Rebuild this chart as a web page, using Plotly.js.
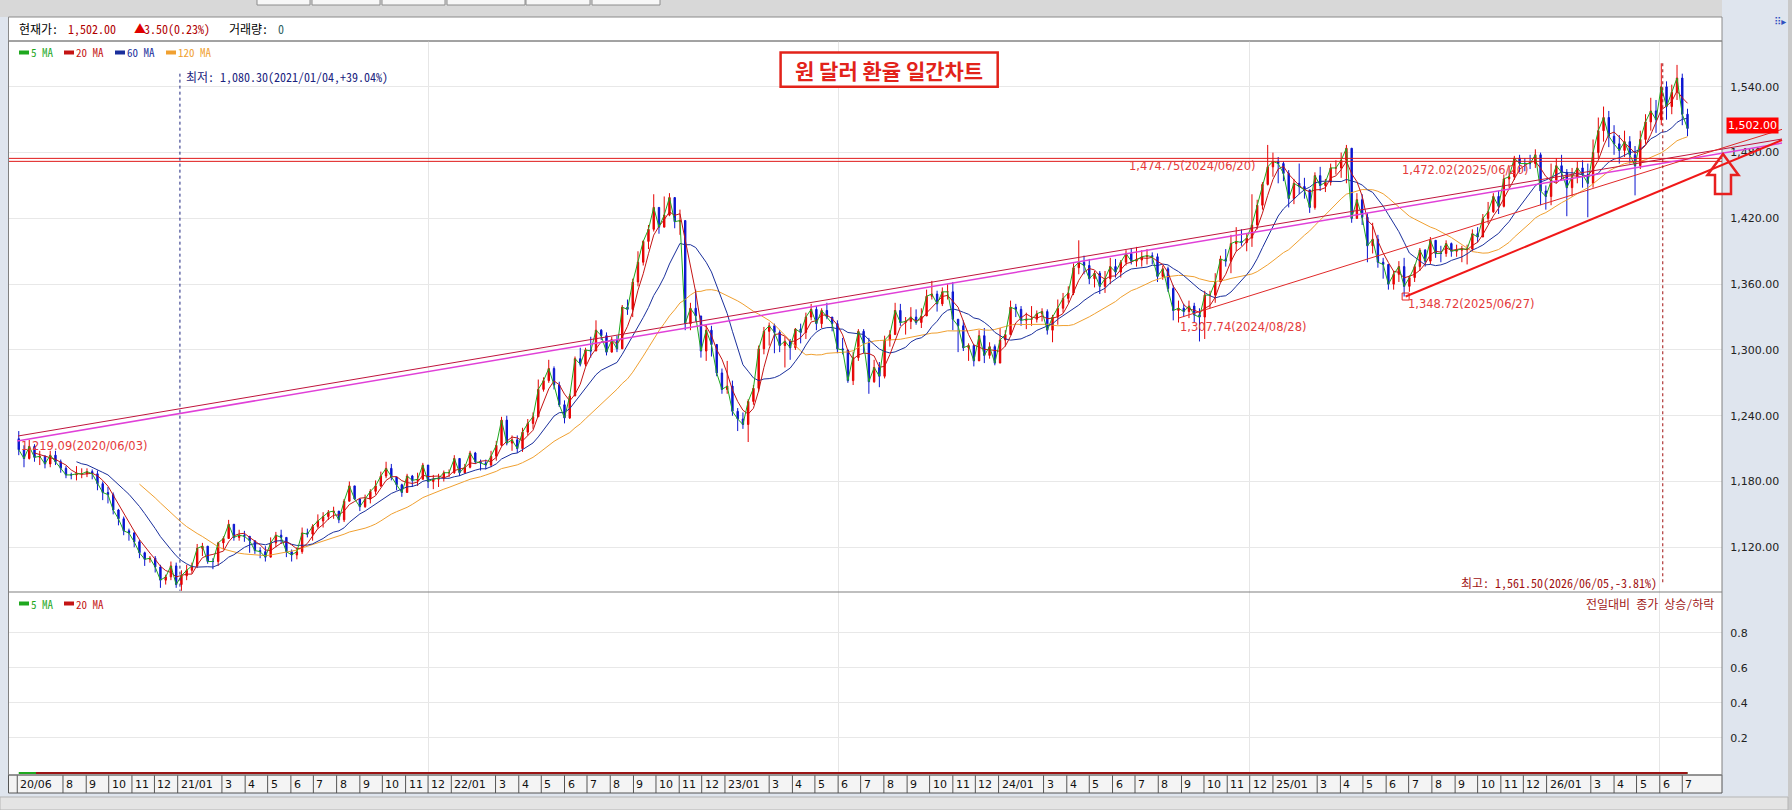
<!DOCTYPE html>
<html><head><meta charset="utf-8">
<script src="https://cdn.plot.ly/plotly-3.0.1.min.js"></script>
<style>html,body{margin:0;padding:0;background:#dfe5ee;}#chart{width:1792px;height:810px;}</style>
</head><body><div id="chart"></div>
<script>
// ===== DATA (weekly candles; week = Mon..Fri, plotted mid-week) =====
const firstWeek = '2020-06-03';
const firstOpen = 1219;
const close2020 = [1209,1201,1212,1202,1203,1196,1204,1198,1192,1186,1186,1187,1187,1189,1187,1178,1170,1168,1154,1146,1135,1133,1125,1115,1109,1110,1102,1090,1093,1103,1086];
const high2020  = [1226,1213,1218,1214,1208,1204,1208,1208,1200,1194,1188,1194,1192,1192,1191,1190,1180,1175,1170,1155,1148,1137,1134,1127,1116,1112,1112,1104,1095,1107,1106];
const low2020   = [1204,1193,1200,1198,1195,1192,1193,1195,1188,1183,1182,1181,1183,1184,1182,1172,1163,1160,1150,1140,1131,1126,1120,1110,1103,1106,1097,1083,1086,1090,1083];
const close2021 = [1094,1099,1103,1119,1121,1107,1107,1124,1128,1141,1129,1131,1130,1126,1117,1116,1111,1124,1131,1129,1116,1113,1116,1133,1132,1139,1144,1148,1152,1153,1145,1162,1176,1164,1157,1164,1171,1176,1185,1192,1184,1177,1170,1185,1181,1182,1195,1180,1182,1183,1188,1188];
const high2021  = [1099,1104,1106,1123,1124,1120,1110,1125,1130,1145,1140,1136,1135,1130,1125,1120,1121,1129,1134,1136,1127,1118,1120,1138,1137,1141,1150,1152,1154,1157,1153,1164,1180,1175,1163,1168,1173,1181,1189,1198,1196,1184,1178,1187,1186,1188,1197,1192,1186,1187,1190,1191];
const low2021   = [1080.3,1090,1096,1101,1112,1105,1100,1103,1118,1128,1126,1126,1125,1115,1114,1110,1107,1111,1120,1123,1111,1107,1109,1114,1129,1126,1137,1138,1145,1146,1142,1143,1164,1163,1153,1156,1160,1168,1175,1183,1181,1172,1166,1170,1175,1176,1182,1174,1173,1175,1180,1184];
const close2022 = [1201,1188,1193,1206,1198,1197,1195,1203,1213,1236,1215,1218,1210,1225,1233,1239,1264,1272,1283,1268,1250,1238,1258,1292,1287,1300,1299,1318,1313,1298,1309,1301,1339,1337,1362,1380,1399,1410,1430,1412,1423,1439,1417,1418,1324,1338,1331,1299,1318,1305,1279,1264];
const high2022  = [1204,1201,1196,1208,1207,1200,1200,1208,1217,1239,1240,1222,1222,1229,1237,1243,1273,1275,1291,1285,1271,1254,1260,1294,1302,1302,1312,1327,1319,1316,1312,1313,1341,1346,1365,1390,1400,1414,1442,1430,1440,1443,1437,1428,1404,1343,1355,1330,1323,1322,1305,1283];
const low2022   = [1187,1185,1187,1192,1196,1190,1191,1193,1199,1212,1213,1208,1206,1207,1222,1228,1240,1262,1270,1264,1248,1233,1237,1258,1285,1285,1293,1300,1309,1295,1298,1298,1306,1332,1330,1358,1377,1392,1408,1406,1415,1422,1411,1405,1318,1318,1326,1293,1290,1294,1276,1260];
const close2023 = [1267,1244,1237,1232,1253,1265,1301,1317,1322,1316,1304,1308,1302,1319,1316,1330,1337,1324,1336,1330,1324,1301,1300,1272,1293,1317,1306,1271,1284,1276,1309,1314,1336,1325,1326,1330,1325,1331,1349,1351,1342,1353,1353,1328,1322,1302,1304,1290,1313,1295,1303,1288];
const high2023  = [1290,1272,1247,1243,1255,1268,1304,1321,1325,1324,1318,1312,1310,1320,1324,1334,1342,1340,1338,1343,1330,1327,1311,1300,1298,1319,1319,1311,1291,1289,1313,1318,1343,1342,1330,1339,1337,1338,1355,1363,1354,1357,1360,1362,1326,1327,1306,1305,1318,1320,1307,1305];
const low2023   = [1260,1240,1226,1228,1216,1250,1262,1296,1304,1297,1298,1284,1291,1300,1306,1310,1327,1318,1320,1328,1317,1297,1296,1270,1268,1290,1297,1260,1270,1266,1274,1303,1318,1322,1314,1319,1323,1320,1333,1346,1335,1340,1346,1318,1298,1299,1290,1285,1293,1288,1292,1286];
const close2024 = [1309,1314,1339,1337,1327,1328,1328,1333,1335,1318,1330,1338,1347,1352,1375,1380,1377,1365,1370,1358,1365,1376,1371,1380,1388,1381,1382,1385,1386,1385,1367,1374,1356,1336,1338,1335,1340,1332,1330,1350,1350,1362,1383,1381,1397,1399,1398,1402,1414,1432,1451,1467,1472];
const high2024  = [1320,1318,1345,1342,1340,1334,1340,1336,1338,1337,1332,1346,1352,1358,1379,1400,1386,1383,1372,1372,1372,1384,1383,1382,1391,1393,1394,1391,1392,1389,1388,1377,1376,1359,1345,1342,1345,1343,1338,1354,1354,1370,1386,1392,1405,1412,1410,1406,1442,1437,1453,1487,1480];
const low2024   = [1288,1303,1316,1330,1322,1319,1322,1325,1326,1314,1307,1323,1334,1343,1350,1369,1369,1360,1357,1351,1352,1360,1366,1366,1377,1378,1376,1376,1378,1378,1362,1364,1353,1327,1325,1330,1329,1325,1307.74,1310,1338,1343,1362,1376,1370,1390,1395,1390,1394,1410,1428,1450,1458];
const close2025 = [1470,1461,1438,1452,1449,1446,1430,1459,1450,1453,1466,1466,1473,1484,1420,1437,1421,1395,1401,1380,1378,1360,1369,1376,1358,1366,1376,1391,1381,1400,1388,1388,1397,1390,1391,1392,1392,1406,1403,1420,1426,1440,1431,1456,1458,1475,1470,1470,1470,1478,1445,1440];
const high2025  = [1476,1472,1464,1456,1470,1457,1446,1462,1467,1456,1470,1473,1480,1487,1484,1443,1442,1425,1416,1405,1384,1378,1372,1381,1384,1368,1378,1393,1392,1403,1400,1395,1400,1398,1396,1395,1396,1410,1412,1424,1435,1443,1445,1460,1468,1477,1478,1475,1478,1483,1480,1450];
const low2025   = [1452,1454,1430,1433,1442,1438,1425,1428,1445,1444,1450,1460,1457,1452,1416,1420,1414,1380,1388,1375,1365,1355,1355,1362,1348.72,1353,1362,1372,1376,1378,1384,1380,1385,1385,1385,1380,1378,1390,1398,1403,1415,1425,1424,1430,1448,1455,1462,1463,1465,1466,1432,1428];
const close2026 = [1455,1468,1462,1448,1458,1466,1460,1452,1480,1500,1512,1495,1488,1482,1490,1478,1468,1492,1508,1518,1510,1540,1522,1535,1548,1515,1502];
const high2026  = [1470,1475,1478,1465,1466,1472,1473,1470,1492,1512,1522,1518,1505,1496,1500,1495,1486,1500,1515,1530,1528,1561.5,1545,1542,1560,1552,1520];
const low2026   = [1432,1452,1455,1422,1440,1452,1448,1421,1448,1475,1490,1485,1478,1470,1476,1470,1441,1465,1488,1500,1498,1505,1510,1515,1528,1505,1495];

// moving-average windows in weeks (5/20/60/120 trading days)
const maWeeks = [1, 4, 12, 24];
const maNames = ['5 MA', '20 MA', '60 MA', '120 MA'];

// lower indicator panel (전일대비 종가 상승/하락) MA lines
const lowerMA5Dates = ['2020-06-03', '2026-07-08'];
const lowerMA5 = [0, 0];
const lowerMA20Dates = ['2020-06-26', '2026-07-08'];
const lowerMA20 = [0, 0];

// axis ticks
const priceTicks = [1120, 1180, 1240, 1300, 1360, 1420, 1480, 1540];
const lowerTicks = [0.2, 0.4, 0.6, 0.8];
const gridDates = ['2021-12-01', '2023-06-01', '2024-12-01', '2026-06-01'];
const xLabelDates = ['2020-06-01','2020-08-01','2020-09-01','2020-10-01','2020-11-01','2020-12-01',
 '2021-01-01','2021-03-01','2021-04-01','2021-05-01','2021-06-01','2021-07-01','2021-08-01','2021-09-01','2021-10-01','2021-11-01','2021-12-01',
 '2022-01-01','2022-03-01','2022-04-01','2022-05-01','2022-06-01','2022-07-01','2022-08-01','2022-09-01','2022-10-01','2022-11-01','2022-12-01',
 '2023-01-01','2023-03-01','2023-04-01','2023-05-01','2023-06-01','2023-07-01','2023-08-01','2023-09-01','2023-10-01','2023-11-01','2023-12-01',
 '2024-01-01','2024-03-01','2024-04-01','2024-05-01','2024-06-01','2024-07-01','2024-08-01','2024-09-01','2024-10-01','2024-11-01','2024-12-01',
 '2025-01-01','2025-03-01','2025-04-01','2025-05-01','2025-06-01','2025-07-01','2025-08-01','2025-09-01','2025-10-01','2025-11-01','2025-12-01',
 '2026-01-01','2026-03-01','2026-04-01','2026-05-01','2026-06-01','2026-07-01'];
const xLabelTexts = ['20/06','8','9','10','11','12',
 '21/01','3','4','5','6','7','8','9','10','11','12',
 '22/01','3','4','5','6','7','8','9','10','11','12',
 '23/01','3','4','5','6','7','8','9','10','11','12',
 '24/01','3','4','5','6','7','8','9','10','11','12',
 '25/01','3','4','5','6','7','8','9','10','11','12',
 '26/01','3','4','5','6','7'];

// drawn reference lines (anchors as date/value)
const hLineValues = [1474.75, 1472.02];
const trendStartDate = ['2020-06-02', '2020-06-01', '2024-08-28', '2025-06-27'];
const trendStartVal  = [1221.5, 1217.0, 1329.0, 1348.72];
const trendEndDate   = ['2026-11-11', '2026-11-11', '2026-11-11', '2026-11-11'];
const trendEndVal    = [1492.4, 1488.7, 1501.2, 1491.5];

// point labels
const labelTexts = ['1,219.09(2020/06/03)', '1,474.75(2024/06/20)', '1,472.02(2025/06/20)', '1,307.74(2024/08/28)', '1,348.72(2025/06/27)'];
const labelDates = ['2020-06-03', '2024-06-20', '2025-06-20', '2024-08-28', '2025-06-27'];
const labelVals  = [1212.5, 1467.8, 1464.1, 1321.2, 1341.6];

const lowInfo  = {date: '2021-01-04', value: 1080.30, text: '최저: 1,080.30(2021/01/04,+39.04%)'};
const highInfo = {date: '2026-06-05', value: 1561.50, text: '최고: 1,561.50(2026/06/05,-3.81%)'};
const lastPrice = 1502.00;

// ===== BUILD =====
const W = 1792, H = 810, ML = 9, MR = 70, MT = 41, MB = 35;
const PW = W - ML - MR, PH = H - MT - MB;
const RANGE0 = '2020-05-21', RANGE1 = '2026-08-23';
const px = x => (x - ML) / PW;
const py = y => (H - MB - y) / PH;
const dateX = d => (Date.parse(d) - Date.parse(RANGE0)) / (Date.parse(RANGE1) - Date.parse(RANGE0));
const KF = 'Noto Sans Mono CJK KR, Noto Sans CJK KR, sans-serif';
const DF = 'DejaVu Sans, Verdana, sans-serif';

const closes = [].concat(close2020, close2021, close2022, close2023, close2024, close2025, close2026);
const highsRaw = [].concat(high2020, high2021, high2022, high2023, high2024, high2025, high2026);
const lowsRaw = [].concat(low2020, low2021, low2022, low2023, low2024, low2025, low2026);
const t0 = Date.parse(firstWeek);
const dates = closes.map((_, i) => new Date(t0 + i * 7 * 86400000).toISOString().slice(0, 10));
const opens = closes.map((c, i) => i === 0 ? firstOpen : closes[i - 1]);
const highs = highsRaw.map((h, i) => Math.max(h, opens[i], closes[i]));
const lows = lowsRaw.map((l, i) => Math.min(l, opens[i], closes[i]));
function sma(arr, n) { return arr.map((_, i) => i < n - 1 ? null : arr.slice(i - n + 1, i + 1).reduce((a, b) => a + b, 0) / n); }

const maColors = ['#1fa81f', '#c41414', '#1a2f9c', '#f0a030'];
const traces = [{
  type: 'candlestick', x: dates, open: opens, high: highs, low: lows, close: closes,
  xaxis: 'x', yaxis: 'y', hoverinfo: 'none', showlegend: false, whiskerwidth: 0,
  increasing: {line: {color: '#e60000', width: 1}, fillcolor: '#e60000'},
  decreasing: {line: {color: '#0a14d0', width: 1}, fillcolor: '#0a14d0'}
}];
[3, 2, 1, 0].forEach(k => traces.push({
  type: 'scatter', mode: 'lines', x: dates, y: sma(closes, maWeeks[k]), name: maNames[k],
  line: {color: maColors[k], width: 1}, xaxis: 'x', yaxis: 'y', hoverinfo: 'skip', showlegend: false, connectgaps: false
}));
traces.push({type: 'scatter', mode: 'markers', x: [trendStartDate[3]], y: [trendStartVal[3]], marker: {symbol: 'square-open', size: 7, color: '#e82020', line: {width: 1}}, xaxis: 'x', yaxis: 'y', showlegend: false, hoverinfo: 'skip'});
traces.push({type: 'scatter', mode: 'lines', x: lowerMA5Dates, y: lowerMA5, line: {color: '#1fa81f', width: 2}, xaxis: 'x', yaxis: 'y2', showlegend: false, hoverinfo: 'skip'});
traces.push({type: 'scatter', mode: 'lines', x: lowerMA20Dates, y: lowerMA20, line: {color: '#9a1414', width: 2}, xaxis: 'x', yaxis: 'y2', showlegend: false, hoverinfo: 'skip'});

const shapes = [];
const rect = (x0, y0, x1, y1, fill, line, lw, layer) => shapes.push({type: 'rect', xref: 'paper', yref: 'paper', x0: px(x0), x1: px(x1), y0: py(y0), y1: py(y1), fillcolor: fill, line: {color: line || 'rgba(0,0,0,0)', width: lw || 0}, layer: layer || 'below'});
// window chrome
rect(0, 0, 1722, 17, '#d8d8d8');
[[257,310],[312,380],[382,445],[447,525],[526,590],[592,660]].forEach(b => rect(b[0], -2, b[1], 5, '#f7f7f7', '#8c8c8c', 1));
rect(1788, 0, 1792, 810, '#c9c9c9');
rect(0, 797, 1788, 810, '#e4e4e4', '#b5b5b5', 1);
rect(8.5, 17, 1722, 41, '#ffffff', '#8a8a8a', 1);
rect(8.5, 775, 1722, 793, '#f4f4f4', '#555555', 1, 'above');
// x-axis cell separators
xLabelDates.forEach(d => shapes.push({type: 'line', xref: 'x', yref: 'paper', x0: d, x1: d, y0: 0, y1: py(793), line: {color: '#555555', width: 1}, layer: 'above'}));
// plot frame + panel separator
rect(8.5, 41, 1722, 775, 'rgba(0,0,0,0)', '#808080', 1, 'above');
shapes.push({type: 'line', xref: 'paper', yref: 'paper', x0: px(8.5), x1: 1, y0: py(592), y1: py(592), line: {color: '#808080', width: 1.2}, layer: 'above'});
// horizontal drawn lines
hLineValues.forEach(v => shapes.push({type: 'line', xref: 'paper', yref: 'y', x0: 0, x1: 1, y0: v, y1: v, line: {color: '#e01818', width: 1}}));
// trendlines
const trendColors = ['#c0143c', '#e040d8', '#e02828', '#f01818'];
const trendWidths = [1, 1.5, 1, 2];
trendStartDate.forEach((d, i) => shapes.push({type: 'line', xref: 'paper', yref: 'y', x0: dateX(d), x1: dateX(trendEndDate[i]), y0: trendStartVal[i], y1: trendEndVal[i], line: {color: trendColors[i], width: trendWidths[i]}}));
// low / high dashed markers
shapes.push({type: 'line', xref: 'x', yref: 'y', x0: lowInfo.date, x1: lowInfo.date, y0: 1552, y1: lowInfo.value, line: {color: '#1a237e', width: 1, dash: 'dot'}});
shapes.push({type: 'line', xref: 'x', yref: 'y', x0: highInfo.date, x1: highInfo.date, y0: highInfo.value, y1: 1086, line: {color: '#a01010', width: 1, dash: 'dot'}});
// title box
rect(780.6, 52.6, 997.7, 86.8, '#ffffff', '#e2231a', 2.5, 'above');
// legend swatches
const legTop = [[19, '#1fa81f'], [64, '#c41414'], [115, '#1a2f9c'], [166, '#f0a030']];
legTop.forEach(s => rect(s[0], 50.5, s[0] + 10, 54.5, s[1], null, 0, 'above'));
[[19, '#1fa81f'], [64, '#c41414']].forEach(s => rect(s[0], 601.5, s[0] + 10, 605.5, s[1], null, 0, 'above'));
// arrow
const ap = [[1723,154],[1738.5,175],[1731,175],[1731,194],[1715,194],[1715,175],[1707.5,175]];
shapes.push({type: 'path', xref: 'paper', yref: 'paper', path: 'M' + ap.map(p => px(p[0]) + ',' + py(p[1])).join(' L') + ' Z', line: {color: '#e82020', width: 2.5}, fillcolor: 'rgba(0,0,0,0)', layer: 'above'});

const ann = [];
const txt = (x, y, text, o) => ann.push(Object.assign({xref: 'paper', yref: 'paper', x: px(x), y: py(y), text: text, showarrow: false, xanchor: 'left', yanchor: 'middle', font: {family: KF, size: 12, color: '#000'}}, o || {}));
// header
txt(17, 28.5, '현재가:');
txt(66, 28.5, '1,502.00', {font: {family: KF, size: 12, color: '#b00000'}});
txt(132, 28.5, '▲', {font: {family: KF, size: 12, color: '#e00000'}});
txt(142, 28.5, '3.50(0.23%)', {font: {family: KF, size: 12, color: '#b00000'}});
txt(227, 28.5, '거래량:');
txt(276, 28.5, '0', {font: {family: KF, size: 12, color: '#2f5f5f'}});
txt(1772, 22, '⠿▸', {font: {family: DF, size: 10, color: '#3050c0'}});
// legends
const legText = ['5 MA', '20 MA', '60 MA', '120 MA'];
legTop.forEach((s, i) => txt(s[0] + 10, 52.5, legText[i], {font: {family: KF, size: 11, color: s[1]}}));
txt(29, 603.5, '5 MA', {font: {family: KF, size: 11, color: '#1fa81f'}});
txt(74, 603.5, '20 MA', {font: {family: KF, size: 11, color: '#c41414'}});
txt(1716, 603.5, '전일대비 종가 상승/하락', {xanchor: 'right', font: {family: KF, size: 12, color: '#a01818'}});
// title
txt(889, 69.7, '원 달러 환율 일간차트', {xanchor: 'center', font: {family: 'Noto Sans CJK KR, sans-serif', size: 21, color: '#e2231a', weight: 700}});
// low/high labels
ann.push({xref: 'x', yref: 'y', x: lowInfo.date, y: 1549.2, xshift: 4, text: lowInfo.text, showarrow: false, xanchor: 'left', yanchor: 'middle', font: {family: KF, size: 12, color: '#1a237e'}});
ann.push({xref: 'x', yref: 'y', x: highInfo.date, y: 1088.3, xshift: -4, text: highInfo.text, showarrow: false, xanchor: 'right', yanchor: 'middle', font: {family: KF, size: 12, color: '#a01010'}});
// point labels
labelTexts.forEach((t, i) => ann.push({xref: 'x', yref: 'y', x: labelDates[i], y: labelVals[i], text: t, showarrow: false, xanchor: 'left', yanchor: 'middle', font: {family: DF, size: 11.5, color: '#e43a3a'}}));
// current price tag
ann.push({xref: 'paper', yref: 'y', x: px(1726), y: lastPrice, yshift: 3, text: '1,502.00', showarrow: false, xanchor: 'left', yanchor: 'middle', bgcolor: '#ff0000', borderpad: 1, font: {family: DF, size: 11, color: '#ffffff'}});
// x-axis labels
xLabelDates.forEach((d, i) => ann.push({xref: 'x', yref: 'paper', x: d, y: py(784), xshift: 1, text: xLabelTexts[i], showarrow: false, xanchor: 'left', yanchor: 'middle', font: {family: DF, size: 11, color: '#111'}}));

const axFont = {family: DF, size: 11, color: '#222'};
const layout = {
  width: W, height: H, margin: {l: ML, r: MR, t: MT, b: MB, autoexpand: false},
  paper_bgcolor: '#dfe5ee', plot_bgcolor: '#ffffff', showlegend: false, hovermode: false,
  boxgap: 0.62,
  xaxis: {type: 'date', range: [RANGE0, RANGE1], anchor: 'y2', showticklabels: false, ticks: '', tickvals: gridDates,
    showgrid: true, gridcolor: '#e6e6e6', zeroline: false, showline: false, rangeslider: {visible: false}},
  yaxis: {domain: [py(592), 1], range: [1079.2, 1581.8], side: 'right', anchor: 'x', tickvals: priceTicks, tickformat: ',.2f',
    ticks: 'outside', ticklen: 5, tickcolor: 'rgba(0,0,0,0)', tickfont: axFont, gridcolor: '#e8e8e8', zeroline: false, showline: false},
  yaxis2: {domain: [0, py(592)], range: [-0.0114, 1.034], side: 'right', anchor: 'x', tickvals: lowerTicks, ticktext: lowerTicks.map(v => v.toFixed(1)),
    ticks: 'outside', ticklen: 5, tickcolor: 'rgba(0,0,0,0)', tickfont: axFont, gridcolor: '#e8e8e8', zeroline: false, showline: false},
  shapes: shapes, annotations: ann
};
Plotly.newPlot('chart', traces, layout, {staticPlot: true, displayModeBar: false});
</script>
</body></html>
